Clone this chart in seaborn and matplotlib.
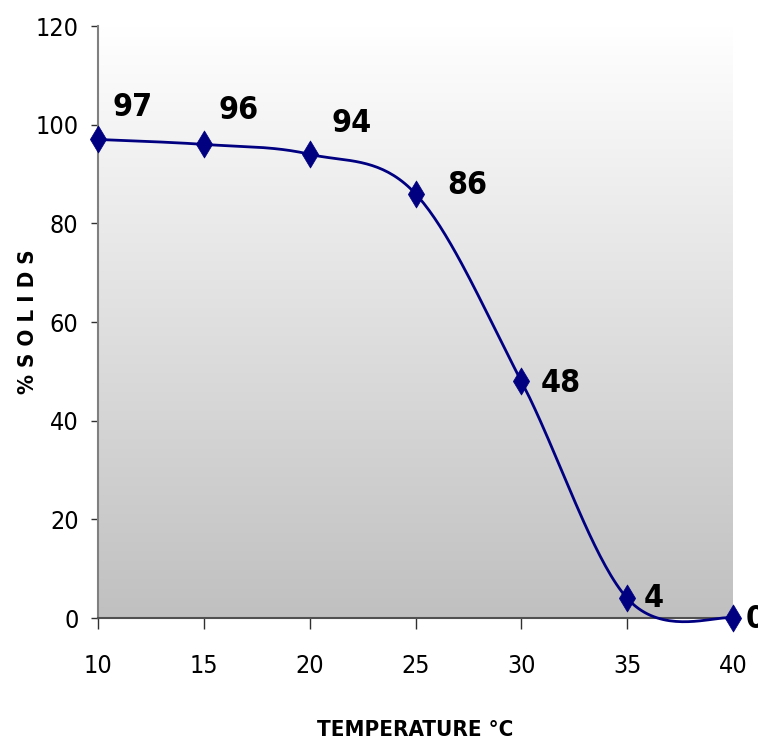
import numpy as np
import pandas as pd
import matplotlib
matplotlib.use("Agg")
import matplotlib.pyplot as plt
import seaborn as sns

# ---- data ----
temperature = [10, 15, 20, 25, 30, 35, 40]
solids = [97, 96, 94, 86, 48, 4, 0]
x_ticks = [10, 15, 20, 25, 30, 35, 40]
y_ticks = [0, 20, 40, 60, 80, 100, 120]
x_label = "TEMPERATURE °C"
y_label = "% S O L I D S"

# label offsets in pixels (style)
label_offsets = [(14, 32), (15, 34), (22, 31), (32, 8), (19, -2), (17, 0), (13, -2)]

sns.set_style("white")
plt.rcParams['font.family'] = ['DejaVu Sans']
plt.rcParams['font.stretch'] = 'condensed'

NAVY = "#000080"

def excel_smooth(xs, ys, n=40):
    """Excel-style smoothed line (Catmull-Rom Bezier with 1/6 tension)."""
    pts = np.column_stack([xs, ys]).astype(float)
    out = []
    m = len(pts)
    for i in range(m - 1):
        p0 = pts[i - 1] if i > 0 else pts[i]
        p1 = pts[i]
        p2 = pts[i + 1]
        p3 = pts[i + 2] if i + 2 < m else pts[i + 1]
        c1 = p1 + (p2 - p0) / 6.0
        c2 = p2 - (p3 - p1) / 6.0
        t = np.linspace(0, 1, n)[:, None]
        seg = ((1 - t) ** 3) * p1 + 3 * ((1 - t) ** 2) * t * c1 + 3 * (1 - t) * t ** 2 * c2 + t ** 3 * p2
        if i > 0:
            seg = seg[1:]
        out.append(seg)
    return np.vstack(out)

W, H = 758, 746
fig = plt.figure(figsize=(W / 100, H / 100), dpi=100)
ax = fig.add_axes([98 / W, 1 - 618 / H, (733 - 98) / W, (618 - 26) / H])

# gradient background
grad = np.linspace(0, 1, 256)[:, None]
cmap = matplotlib.colors.LinearSegmentedColormap.from_list("bg", ["#ffffff", "#c0c0c0"])
ax.imshow(grad, aspect="auto", cmap=cmap, extent=[0, 1, 0, 1], transform=ax.transAxes, zorder=0)

df = pd.DataFrame({"temperature": temperature, "solids": solids})
smooth = excel_smooth(temperature, solids)
sdf = pd.DataFrame({"x": smooth[:, 0], "y": smooth[:, 1]})
sns.lineplot(data=sdf, x="x", y="y", sort=False, color=NAVY, linewidth=2, ax=ax, zorder=3)
for ln in ax.lines:
    ln.set_clip_on(False)
sns.scatterplot(data=df, x="temperature", y="solids", marker="d", color=NAVY, s=190,
                edgecolor=NAVY, linewidth=0.5, ax=ax, zorder=4)
for c in ax.collections:
    c.set_clip_on(False)

# data labels
for (xv, yv), (dx, dy) in zip(zip(temperature, solids), label_offsets):
    ax.annotate(str(yv), xy=(xv, yv), xytext=(dx * 0.72, dy * 0.72), textcoords="offset points",
                ha="left", va="center", fontsize=23, fontweight="bold", color="black",
                annotation_clip=False, zorder=5)

ax.set_xlim(10, 40)
ax.set_ylim(0, 120)
ax.set_xticks(x_ticks)
ax.set_yticks(y_ticks)
ax.tick_params(axis="x", direction="out", length=8, width=1, color="#303030", pad=18,
               labelsize=18, labelcolor="black")
ax.tick_params(axis="y", direction="out", length=5, width=1, color="#303030", pad=9,
               labelsize=18, labelcolor="black")
ax.tick_params(bottom=True, left=True)

for s in ["top", "right"]:
    ax.spines[s].set_visible(False)
ax.spines["left"].set_color("#808080")
ax.spines["left"].set_linewidth(1.5)
ax.spines["bottom"].set_color("#505050")
ax.spines["bottom"].set_linewidth(1.5)

ax.set_xlabel(x_label, fontsize=16, fontweight="bold", va="center", color="black")
ax.set_ylabel(y_label, fontsize=16, fontweight="bold", va="center", color="black")
ax.xaxis.set_label_coords(0.5, -(730 - 618) / (618 - 26))
ax.yaxis.set_label_coords(-(98 - 28) / (733 - 98), 0.5)

fig.savefig("out.png", dpi=100)
